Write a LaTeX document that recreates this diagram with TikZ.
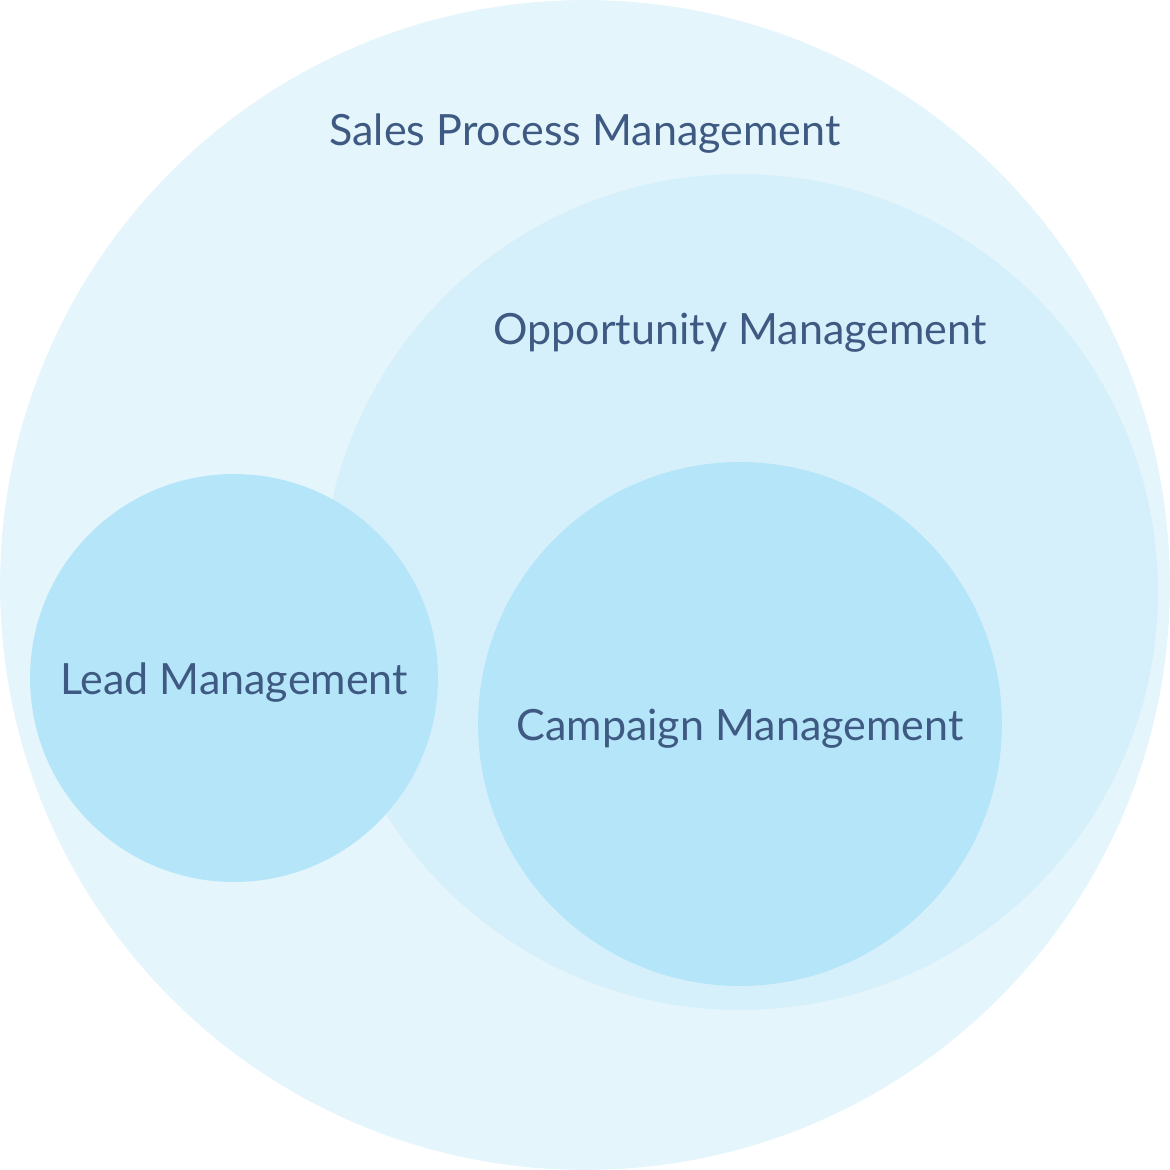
\documentclass[tikz,border=0pt]{standalone}
\usepackage{fontspec}
\setmainfont{Lato}
\usetikzlibrary{calc}
\definecolor{sales_bg}{HTML}{E4F5FC}
\definecolor{oppo_bg}{HTML}{D5F0FB}
\definecolor{inner_bg}{HTML}{B5E5F8}
\definecolor{label_blue}{HTML}{3F5A82}
\tikzset{CIRCLE/.style={circle,inner sep=0pt,draw=none}}
\tikzset{LABEL/.style={text=label_blue,font=\fontsize{24.5}{28}\selectfont,inner sep=0pt}}

\begin{document}
\begin{tikzpicture}[x=0.02cm,y=-0.02cm]

\useasboundingbox (0,0) rectangle (1170,1170);

\node[CIRCLE, fill=sales_bg, minimum size=23.4cm] (n_sales) at (585,585) {};
\node[CIRCLE, fill=oppo_bg, minimum size=16.72cm] (n_oppo) at (740,592) {};
\node[CIRCLE, fill=inner_bg, minimum size=10.48cm] (n_campaign) at (740,724) {};
\node[CIRCLE, fill=inner_bg, minimum size=8.16cm] (n_lead) at (234,678) {};

\node[LABEL] (l_sales) at ($(n_sales.center)+(0,-451)$) {Sales Process Management};
\node[LABEL] (l_oppo) at ($(n_oppo.center)+(0,-259)$) {Opportunity Management};
\node[LABEL] (l_campaign) at ($(n_campaign.center)+(0,5)$) {Campaign Management};
\node[LABEL] (l_lead) at ($(n_lead.center)+(0,5)$) {Lead Management};

\end{tikzpicture}
\end{document}
